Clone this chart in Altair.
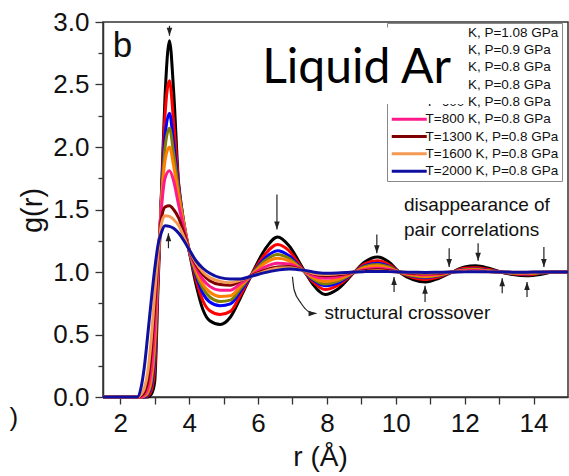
import altair as alt
import pandas as pd

# ---------------- data ----------------
R = [1.5, 2.5, 2.6, 2.7, 2.8, 2.9, 3.0, 3.1, 3.2, 3.3, 3.43, 3.55, 3.7, 3.85, 4.0,
     4.2, 4.4, 4.6, 4.9, 5.2, 5.5, 5.85, 6.2, 6.57, 6.9, 7.3, 7.6, 7.95, 8.3, 8.8,
     9.1, 9.47, 9.8, 10.1, 10.5, 10.87, 11.25, 11.64, 12.0, 12.32, 12.7, 13.05,
     13.4, 13.8, 14.2, 14.6, 15.0]

g_black = [0, 0, 0, 0, 0, 0.02, 0.12, 0.9, 1.66, 2.4, 2.85, 2.45, 1.68, 1.37, 1.17,
           0.9, 0.7, 0.61, 0.58, 0.64, 0.8, 1.0, 1.18, 1.28, 1.21, 1.03, 0.9, 0.82, 0.86, 1.0,
           1.08, 1.12, 1.08, 1.0, 0.94, 0.92, 0.95, 1.0, 1.04, 1.05, 1.03, 1.0,
           0.98, 0.97, 0.98, 1.0, 1.0]
g_red = [0, 0, 0, 0, 0.01, 0.05, 0.22, 0.95, 1.64, 2.25, 2.53, 2.2, 1.7, 1.38, 1.17,
         0.94, 0.77, 0.69, 0.66, 0.685, 0.82, 0.995, 1.14, 1.22, 1.17, 1.02, 0.92, 0.86, 0.89, 1.0,
         1.065, 1.09, 1.06, 1.0, 0.955, 0.94, 0.96, 1.0, 1.03, 1.035, 1.02, 1.0,
         0.985, 0.978, 0.99, 1.0, 1.0]
g_blue = [0, 0, 0, 0, 0.02, 0.09, 0.32, 1.0, 1.62, 2.08, 2.27, 2.03, 1.68, 1.39, 1.17,
          0.97, 0.83, 0.76, 0.73, 0.745, 0.85, 0.99, 1.11, 1.17, 1.13, 1.015, 0.935, 0.89, 0.91, 1.0,
          1.05, 1.07, 1.045, 1.0, 0.965, 0.955, 0.97, 1.0, 1.02, 1.025, 1.012, 1.0,
          0.988, 0.985, 0.992, 1.0, 1.0]
g_olive = [0, 0, 0, 0.005, 0.03, 0.12, 0.38, 1.03, 1.6, 1.99, 2.15, 1.95, 1.65, 1.39, 1.175,
           0.99, 0.87, 0.8, 0.765, 0.775, 0.87, 0.99, 1.09, 1.14, 1.11, 1.015, 0.945, 0.905, 0.925, 1.0,
           1.045, 1.06, 1.04, 1.0, 0.97, 0.96, 0.973, 1.0, 1.018, 1.022, 1.01, 1.0,
           0.99, 0.987, 0.993, 1.0, 1.0]
g_orange = [0, 0, 0, 0.01, 0.04, 0.15, 0.45, 1.06, 1.57, 1.89, 2.0, 1.85, 1.6, 1.38, 1.18,
            1.01, 0.9, 0.84, 0.805, 0.81, 0.89, 0.985, 1.07, 1.11, 1.09, 1.015, 0.955, 0.925, 0.94, 1.0,
            1.035, 1.05, 1.03, 1.0, 0.975, 0.965, 0.977, 1.0, 1.015, 1.018, 1.008, 1.0,
            0.992, 0.99, 0.995, 1.0, 1.0]
g_magenta = [0, 0, 0, 0.02, 0.07, 0.22, 0.55, 1.1, 1.52, 1.75, 1.81, 1.73, 1.53, 1.35, 1.18,
             1.035, 0.94, 0.885, 0.855, 0.855, 0.91, 0.98, 1.04, 1.07, 1.065, 1.015, 0.97, 0.95, 0.96, 1.0,
             1.02, 1.03, 1.02, 1.0, 0.985, 0.978, 0.985, 1.0, 1.01, 1.012, 1.005, 1.0,
             0.995, 0.993, 0.997, 1.0, 1.0]
g_darkred = [0, 0, 0.01, 0.04, 0.13, 0.36, 0.72, 1.14, 1.43, 1.52, 1.53, 1.5, 1.43, 1.31, 1.18,
             1.06, 0.98, 0.93, 0.9, 0.895, 0.93, 0.975, 1.015, 1.04, 1.045, 1.015, 0.985, 0.97, 0.975, 1.0,
             1.01, 1.02, 1.01, 1.0, 0.99, 0.986, 0.99, 1.0, 1.005, 1.007, 1.003, 1.0,
             0.997, 0.996, 0.998, 1.0, 1.0]
g_lightorange = [0, 0, 0.02, 0.07, 0.2, 0.46, 0.82, 1.16, 1.39, 1.45, 1.445, 1.42, 1.37, 1.28, 1.18,
                 1.075, 1.0, 0.955, 0.925, 0.915, 0.935, 0.97, 1.005, 1.03, 1.035, 1.015, 0.99, 0.98, 0.985, 1.0,
                 1.005, 1.01, 1.005, 1.0, 0.995, 0.992, 0.995, 1.0, 1.003, 1.004, 1.002, 1.0,
                 0.998, 0.998, 0.999, 1.0, 1.0]
g_navy = [0, 0, 0.07, 0.24, 0.5, 0.77, 1.02, 1.22, 1.32, 1.37, 1.365, 1.35, 1.31, 1.25, 1.18,
          1.09, 1.03, 0.99, 0.955, 0.945, 0.945, 0.97, 0.995, 1.015, 1.025, 1.015, 1.0, 0.99, 0.992, 1.0,
          1.003, 1.005, 1.003, 1.0, 0.998, 0.996, 0.998, 1.0, 1.001, 1.002, 1.001, 1.0,
          0.999, 0.999, 1.0, 1.0, 1.0]

SERIES_LABELS = ["T=300 K, P=1.08 GPa", "T=335 K, P=0.9 GPa", "T=375 K, P=0.8 GPa",
                 "T=400 K, P=0.8 GPa", "T=600 K, P=0.8 GPa", "T=800 K, P=0.8 GPa",
                 "T=1300 K, P=0.8 GPa", "T=1600 K, P=0.8 GPa", "T=2000 K, P=0.8 GPa"]
SERIES_VALUES = [g_black, g_red, g_blue, g_olive, g_orange, g_magenta,
                 g_darkred, g_lightorange, g_navy]
SERIES_COLORS = ["#000000", "#ff0000", "#0000ff", "#808000", "#ff8000",
                 "#ff1a8c", "#800000", "#f59a55", "#1010a0"]

# annotation arrows: position r, tail g, head g
ARROW_R = [3.43, 6.55, 9.45, 11.55, 12.39, 14.30, 3.40, 9.95, 10.85, 13.09, 13.81]
ARROW_TAIL = [2.97, 1.62, 1.30, 1.19, 1.23, 1.20, 1.19, 0.84, 0.76, 0.83, 0.80]
ARROW_HEAD = [2.89, 1.34, 1.15, 1.04, 1.09, 1.04, 1.31, 0.96, 0.89, 0.95, 0.92]

# curved "structural crossover" arrow
CROSS_R = [7.0, 7.05, 7.25, 7.49, 7.70]
CROSS_G = [0.962, 0.856, 0.75, 0.68, 0.668]

ANNOT_TEXT = ["disappearance of", "pair correlations", "structural crossover"]
ANNOT_R = [10.24, 10.24, 7.93]
ANNOT_G = [1.535, 1.335, 0.67]

PANEL_TEXT = ["b"]
PANEL_R = [1.78]
PANEL_G = [2.72]

STRAY_TEXT = [")"]
STRAY_R = [-1.09]
STRAY_G = [-0.17]

# ---------------- build tables ----------------
rows = []
for lab, vals in zip(SERIES_LABELS, SERIES_VALUES):
    assert len(vals) == len(R), lab
    for r, g in zip(R, vals):
        rows.append({"r": r, "g": g, "series": lab})
df = pd.DataFrame(rows)

arrows = pd.DataFrame({"r": ARROW_R, "tail": ARROW_TAIL, "head": ARROW_HEAD})
arrows["dir"] = ["down" if t > h else "up" for t, h in zip(ARROW_TAIL, ARROW_HEAD)]
cross = pd.DataFrame({"r": CROSS_R, "g": CROSS_G})
cross_head = cross.tail(1)
annot = pd.DataFrame({"text": ANNOT_TEXT, "r": ANNOT_R, "g": ANNOT_G})
panel = pd.DataFrame({"text": PANEL_TEXT, "r": PANEL_R, "g": PANEL_G})
stray = pd.DataFrame({"text": STRAY_TEXT, "r": STRAY_R, "g": STRAY_G})

FONT = "Liberation Sans, Arial, sans-serif"
AX = "#333333"
XS = alt.Scale(domain=[1.5, 15], nice=False, zero=False)
YS = alt.Scale(domain=[0, 3], nice=False, zero=False)

x_axis = alt.Axis(
    orient="bottom", values=list(range(2, 15)),
    labelExpr="datum.value % 2 === 0 ? datum.label : ''",
    tickSize=7, tickColor=AX, tickWidth=1.3, domainColor=AX, domainWidth=1.5,
    labelFont=FONT, labelFontSize=26, labelColor="#111", labelPadding=6,
    labelFlush=False, labelOverlap=False, grid=False,
    title="r (Å)", titleFont=FONT, titleFontSize=28, titleFontWeight="normal",
    titleColor="#111", titleX=217, titleY=60, titleAlign="center",
    titleBaseline="middle", titleAngle=0,
)
y_axis = alt.Axis(
    values=[i * 0.25 for i in range(13)],
    labelExpr="datum.value % 0.5 === 0 ? format(datum.value, '.1f') : ''",
    tickSize={"condition": {"test": "datum.value % 0.5 === 0", "value": 8}, "value": 5},
    tickColor=AX, tickWidth=1.3, domainColor=AX, domainWidth=1.5,
    labelFont=FONT, labelFontSize=26, labelColor="#111", labelPadding=6,
    labelFlush=False, labelOverlap=False, grid=False,
    title="g(r)", titleFont=FONT, titleFontSize=29, titleFontWeight="normal",
    titleColor="#111", titleX=-71, titleY=188, titleAngle=270, titleAlign="center",
    titleBaseline="middle",
)

BOX_CENTER_R = 8.79
box_axis = alt.Axis(
    orient="top", offset=-81.5, values=[BOX_CENTER_R], ticks=True, tickSize=76.5,
    tickWidth=219, tickColor="white", tickRound=False, domain=False, labels=False,
    grid=False, title="Liquid Ar", titleFont="Lato", titleFontSize=48,
    titleFontWeight="normal", titleColor="black", titleX=253, titleY=-35.5,
    titleAlign="center", titleBaseline="middle", titleAngle=0, zindex=1,
)

# legend swatch: a horizontal line 35 px long (custom path, scaled by sqrt(size)/2)
SWATCH = "M-1,0H6"
legend = alt.Legend(
    orient="none", legendX=284, legendY=1, title=None, symbolType=SWATCH,
    symbolSize=100, symbolStrokeWidth=3, labelFont=FONT, labelFontSize=13.5,
    labelColor="#111", labelOffset=22, labelLimit=300, rowPadding=2.3, padding=3,
    fillColor="white", strokeColor="#888888",
)

curves = alt.Chart(df).mark_line(strokeWidth=3, interpolate="monotone").encode(
    x=alt.X("r:Q", scale=XS, axis=x_axis),
    y=alt.Y("g:Q", scale=YS, axis=y_axis),
    color=alt.Color("series:N", scale=alt.Scale(domain=SERIES_LABELS, range=SERIES_COLORS),
                    legend=legend, sort=SERIES_LABELS),
    detail="series:N",
)

rules = alt.Chart(arrows).mark_rule(color="#222", strokeWidth=1.2).encode(
    x=alt.X("r:Q", scale=XS, axis=None),
    y=alt.Y("tail:Q", scale=YS, axis=y_axis),
    y2="head:Q",
)
DOWN = "M-0.7,-1L0.7,-1L0,1Z"
UP = "M-0.7,1L0.7,1L0,-1Z"
RIGHT = "M-1,-0.7L-1,0.7L1,0Z"
heads_down = alt.Chart(arrows).transform_filter("datum.dir === 'down'").mark_point(
    shape=DOWN, size=64, filled=True, color="#222", opacity=1, yOffset=-4).encode(
    x=alt.X("r:Q", scale=XS, axis=None), y=alt.Y("head:Q", scale=YS, axis=y_axis))
heads_up = alt.Chart(arrows).transform_filter("datum.dir === 'up'").mark_point(
    shape=UP, size=64, filled=True, color="#222", opacity=1, yOffset=4).encode(
    x=alt.X("r:Q", scale=XS, axis=None), y=alt.Y("head:Q", scale=YS, axis=y_axis))

cross_line = alt.Chart(cross).mark_line(color="#222", strokeWidth=1.2,
                                        interpolate="monotone").encode(
    x=alt.X("r:Q", scale=XS, axis=None), y=alt.Y("g:Q", scale=YS, axis=y_axis))
cross_tip = alt.Chart(cross_head).mark_point(
    shape=RIGHT, size=64, filled=True, color="#222", opacity=1, xOffset=-4).encode(
    x=alt.X("r:Q", scale=XS, axis=None), y=alt.Y("g:Q", scale=YS, axis=y_axis))

texts = alt.Chart(annot).mark_text(font=FONT, fontSize=19, align="left",
                                   baseline="middle", color="#111").encode(
    x=alt.X("r:Q", scale=XS, axis=None), y=alt.Y("g:Q", scale=YS, axis=y_axis),
    text="text:N")

panel_txt = alt.Chart(panel).mark_text(font=FONT, fontSize=35, align="left",
                                       baseline="alphabetic", color="#111").encode(
    x=alt.X("r:Q", scale=XS, axis=box_axis), y=alt.Y("g:Q", scale=YS, axis=y_axis),
    text="text:N")

stray_txt = alt.Chart(stray).mark_text(font=FONT, fontSize=26, align="center",
                                       baseline="middle", color="#111").encode(
    x=alt.X("r:Q", scale=XS, axis=None), y=alt.Y("g:Q", scale=YS, axis=y_axis),
    text="text:N")

chart = alt.layer(
    curves, rules, heads_down, heads_up, cross_line, cross_tip, texts, panel_txt, stray_txt
).resolve_axis(x="independent").properties(
    width=465, height=375,
    autosize=alt.AutoSizeParams(type="none"),
    padding={"left": 103, "top": 22, "right": 1, "bottom": 79},
    background="white",
).configure_view(stroke=AX, strokeWidth=1.5)

chart.save("out.html", embed_options={"renderer": "svg", "actions": False})
